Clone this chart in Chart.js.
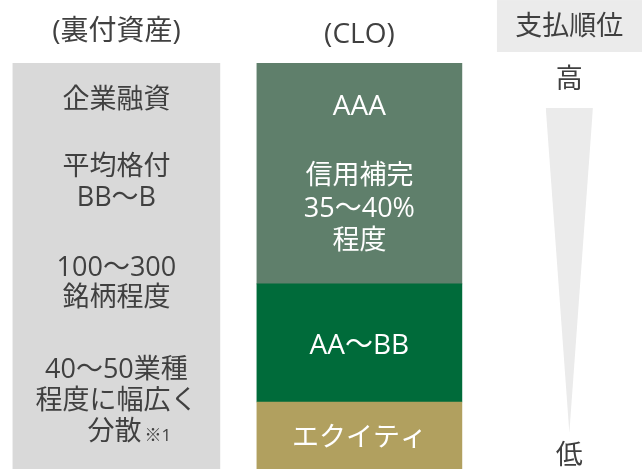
<!DOCTYPE html>
<html lang="ja">
<head>
    <meta charset="UTF-8">
    <title>CLOの仕組み</title>
    <script src="https://cdn.jsdelivr.net/npm/chart.js"></script>
    <style>
        html, body {
            margin: 0;
            padding: 0;
            background: #ffffff;
        }

        canvas {
            display: block;
        }
    </style>
</head>
<body>

    <canvas id="cloChart" width="642" height="469"></canvas>

    <script>
        // Column titles
        const headers = ['(裏付資産)', '(CLO)', '支払順位'];

        // Underlying assets (one full-height block)
        const assetTotal = [100];
        const assetLines = ['企業融資', '平均格付', 'BB～B', '100～300', '銘柄程度', '40～50業種', '程度に幅広く', '分散'];
        const assetNote = '※1';

        // CLO tranches, bottom to top
        const trancheNames = ['エクイティ', 'AA～BB', 'AAA'];
        const trancheSizes = [16.5, 29.1, 54.4];
        const trancheNotes = ['信用補完', '35～40%', '程度'];

        // Payment priority wedge: top and tip
        const priorityEnds = ['高', '低'];
        const priorityWedge = [88.9, 8.9];

        // Layout (column positions on the x axis, text rows on the y axis)
        const colX = [0, 1, 1.864];
        const wedgeHalf = 0.097;
        const grayText = '#404040';
        const font = '"Open Sans", "Noto Sans CJK JP", sans-serif';

        const textRows = [
            // [text, column, y value, size, color]
            [headers[0], 0, 107.6, 28, grayText],
            [headers[1], 1, 106.9, 28, grayText],
            [headers[2], 2, 108.9, 27, grayText],
            [assetLines[0], 0, 90.9, 27, grayText],
            [assetLines[1], 0, 74.4, 27, grayText],
            [assetLines[2], 0, 66.7, 27, grayText],
            [assetLines[3], 0, 49.5, 27, grayText],
            [assetLines[4], 0, 42.1, 27, grayText],
            [assetLines[5], 0, 24.4, 27, grayText],
            [assetLines[6], 0, 16.7, 27, grayText],
            [trancheNames[2], 1, 89.2, 28, '#ffffff'],
            [trancheNotes[0], 1, 72.2, 27, '#ffffff'],
            [trancheNotes[1], 1, 64.0, 27, '#ffffff'],
            [trancheNotes[2], 1, 56.2, 27, '#ffffff'],
            [trancheNames[1], 1, 30.3, 28, '#ffffff'],
            [trancheNames[0], 1, 7.6, 27, '#ffffff'],
            [priorityEnds[0], 2, 95.8, 27, grayText],
            [priorityEnds[1], 2, 3.2, 27, grayText]
        ];

        const diagramText = {
            id: 'diagramText',
            beforeDatasetsDraw(chart) {
                // light box behind the "支払順位" title
                const { ctx, scales: { x, y } } = chart;
                ctx.save();
                ctx.fillStyle = '#ebebeb';
                const left = x.getPixelForValue(1.566);
                const top = y.getPixelForValue(115.5);
                ctx.fillRect(left, top, chart.width - left, y.getPixelForValue(102.7) - top);
                ctx.restore();
            },
            afterDatasetsDraw(chart) {
                const { ctx, scales: { x, y } } = chart;
                ctx.save();
                ctx.textAlign = 'center';
                ctx.textBaseline = 'middle';
                textRows.forEach(([text, col, val, size, color]) => {
                    ctx.font = `${size}px ${font}`;
                    ctx.fillStyle = color;
                    ctx.fillText(text, x.getPixelForValue(colX[col]), y.getPixelForValue(val));
                });

                // last asset line with its footnote mark
                ctx.font = `27px ${font}`;
                ctx.fillStyle = grayText;
                const cx = x.getPixelForValue(colX[0]) - 2;
                const cy = y.getPixelForValue(9.1);
                ctx.fillText(assetLines[7], cx, cy);
                const w = ctx.measureText(assetLines[7]).width;
                ctx.font = `17px ${font}`;
                ctx.textAlign = 'left';
                ctx.fillText(assetNote, cx + w / 2 + 3, cy + 4);
                ctx.restore();
            }
        };

        const trancheColors = ['#b1a05f', '#006b3a', '#5f7f6b'];

        const datasets = [{
            type: 'bar',
            label: headers[0],
            data: [{ x: colX[0], y: assetTotal[0] }],
            backgroundColor: '#d9d9d9',
            barThickness: 207,
            stack: 'main'
        }];

        trancheNames.forEach((name, i) => {
            datasets.push({
                type: 'bar',
                label: name,
                data: [{ x: colX[1], y: trancheSizes[i] }],
                backgroundColor: trancheColors[i],
                barThickness: 205,
                stack: 'main'
            });
        });

        datasets.push({
            type: 'line',
            label: headers[2],
            data: [
                { x: colX[2] - wedgeHalf, y: priorityWedge[0] },
                { x: colX[2], y: priorityWedge[1] },
                { x: colX[2] + wedgeHalf, y: priorityWedge[0] }
            ],
            borderWidth: 0,
            borderColor: 'rgba(0,0,0,0)',
            backgroundColor: '#ebebeb',
            pointRadius: 0,
            tension: 0,
            fill: { value: priorityWedge[0] },
            stack: 'wedge'
        });

        new Chart(document.getElementById('cloChart').getContext('2d'), {
            type: 'bar',
            data: { datasets: datasets },
            options: {
                responsive: false,
                animation: false,
                layout: { padding: { top: 63, left: 0, right: 0, bottom: 0 } },
                scales: {
                    x: {
                        type: 'linear',
                        min: -0.479,
                        max: 2.163,
                        offset: false,
                        stacked: true,
                        display: false
                    },
                    y: {
                        min: 0,
                        max: 100,
                        stacked: true,
                        display: false
                    }
                },
                plugins: {
                    legend: { display: false },
                    tooltip: { enabled: false }
                }
            },
            plugins: [diagramText]
        });
    </script>

</body>
</html>
